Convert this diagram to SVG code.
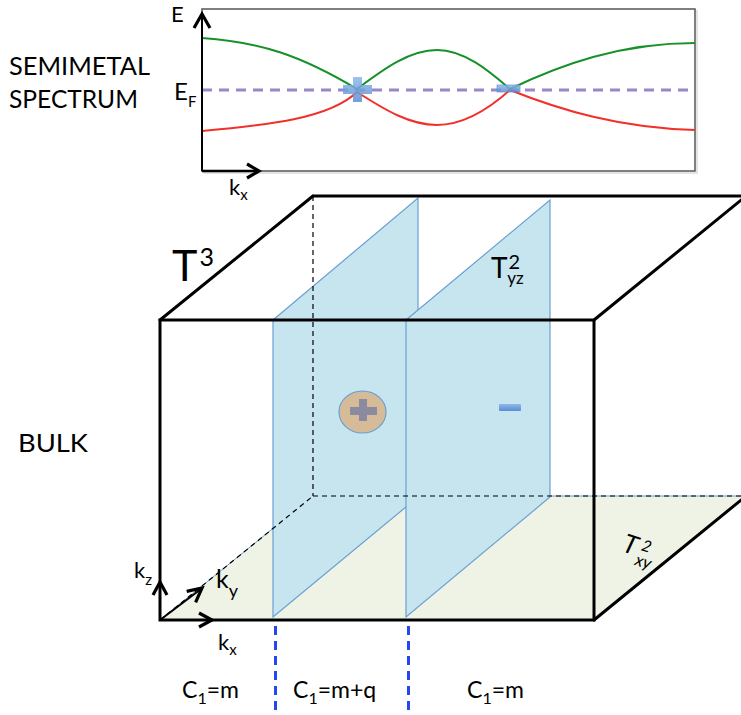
<svg xmlns="http://www.w3.org/2000/svg" width="741" height="715" viewBox="0 0 741 715">
<style>
text{font-family:Lato,"Open Sans","Liberation Sans",sans-serif;fill:#000}
.edge{fill:none;stroke:#000;stroke-width:3;stroke-linecap:round}
.hid{fill:none;stroke:#000;stroke-width:1.2;stroke-dasharray:5,4}
.chev{fill:none;stroke:#000;stroke-width:3.2;stroke-linejoin:miter}
.plane{fill:#c6e5ef;stroke:#6a9fd2;stroke-width:1.2}
.cut{stroke:#2447f0;stroke-width:3;stroke-dasharray:9,6}
</style>
<defs>
<linearGradient id="bl" x1="0" y1="0" x2="0" y2="1"><stop offset="0" stop-color="#8db8ea"/><stop offset="1" stop-color="#5a8fd0"/></linearGradient>
</defs>
<g id="spectrum">
<rect x="204" y="11" width="493" height="162" fill="none" stroke="#e4e4e4" stroke-width="2"/>
<rect x="202" y="9" width="493" height="162" fill="#fff" stroke="#555" stroke-width="1.5"/>
<line x1="202" y1="90" x2="692" y2="90" stroke="#9a86c8" stroke-width="3" stroke-dasharray="10,7"/>
<path d="M202,38 C260,42 300,55 357,89 C385,68 410,50 437,50 C465,50 490,72 510,89 C560,65 620,43 695,43" fill="none" stroke="#16912a" stroke-width="2"/>
<path d="M202,131 C270,125 330,118 357,92 C385,110 410,125 437,125 C465,125 490,108 510,90 C560,110 620,128 695,130" fill="none" stroke="#f2302a" stroke-width="2"/>
<path d="M353,77 h9 v8 h10 v9 h-10 v8 h-9 v-8 h-10 v-9 h10 z" fill="url(#bl)" opacity="0.85"/>
<rect x="497" y="85" width="23" height="7" fill="url(#bl)" opacity="0.85" stroke="#5a8fd0" stroke-width="0.8"/>
<line x1="202" y1="171" x2="202" y2="14" stroke="#000" stroke-width="2"/>
<polyline class="chev" points="194,28 202,14 210,28"/>
<line x1="202" y1="171" x2="258" y2="171" stroke="#000" stroke-width="2.5"/>
<polyline class="chev" points="247,164 259,171 247,178"/>
<text x="171" y="22" font-size="22">E</text>
<text x="174" y="100" font-size="24">E<tspan font-size="15" dy="7">F</tspan></text>
<text x="229" y="195" font-size="22">k<tspan font-size="15" dy="5">x</tspan></text>
</g>
<g id="labels">
<text x="9" y="75" font-size="25" textLength="141" lengthAdjust="spacingAndGlyphs">SEMIMETAL</text>
<text x="9" y="108" font-size="25" textLength="129" lengthAdjust="spacingAndGlyphs">SPECTRUM</text>
<text x="18" y="452" font-size="25" textLength="70" lengthAdjust="spacingAndGlyphs">BULK</text>
</g>
<g id="floor">
<polygon points="160,620 594,620 746,496 313,496" fill="#eff3e5" stroke="#6a9fd2" stroke-width="1"/>
</g>
<g id="plane1">
<polygon class="plane" points="273,320 418,198 418,497 273,617"/>
</g>
<g id="plane2">
<polygon class="plane" points="406,320 550,200 550,497 406,617"/>
</g>
<g id="connectors">
<line class="hid" x1="313" y1="196" x2="313" y2="496"/>
<line class="hid" x1="313" y1="496" x2="741" y2="496"/>
<line class="hid" x1="160" y1="620" x2="313" y2="496"/>
<rect class="edge" x="160" y="320" width="434" height="300"/>
<line class="edge" x1="160" y1="320" x2="313" y2="196"/>
<line class="edge" x1="313" y1="196" x2="745" y2="196"/>
<line class="edge" x1="594" y1="320" x2="746" y2="196"/>
<line class="edge" x1="594" y1="620" x2="746" y2="496"/>
<polyline class="chev" points="153,595 160,582 167,595"/>
<polyline class="chev" points="199,613 212,620 199,627"/>
<line x1="160" y1="620" x2="201" y2="589" stroke="#000" stroke-width="2"/>
<polyline class="chev" points="195.6,602.3 202,588 186.7,591.4"/>
<line class="cut" x1="275.5" y1="626" x2="275.5" y2="715"/>
<line class="cut" x1="408.5" y1="626" x2="408.5" y2="715"/>
</g>
<g id="charges">
<ellipse cx="362.5" cy="412" rx="23.5" ry="21" fill="#d5bb97" stroke="#6a9fd2" stroke-width="1.2"/>
<path d="M359,399 h8 v8 h10 v8 h-10 v6 h-8 v-6 h-9 v-8 h9 z" fill="#8c8a9e"/>
<rect x="499" y="404" width="22" height="7" rx="1" fill="url(#bl)"/>
</g>
<g id="axis-labels">
<text x="172" y="281" font-size="43">T<tspan font-size="25" dx="2" dy="-15">3</tspan></text>
<text x="491" y="278" font-size="28">T<tspan font-size="20" dx="1" dy="-9">2</tspan><tspan font-size="17" dx="-13" dy="15">yz</tspan></text>
<g transform="translate(621,551) rotate(18)">
<text x="0" y="0" font-size="26" font-style="italic">T<tspan font-size="16" dx="4" dy="-7">2</tspan><tspan font-size="17" dx="-11" dy="16">xy</tspan></text>
</g>
<text x="134" y="578" font-size="22">k<tspan font-size="15" dy="7">z</tspan></text>
<text x="216" y="588" font-size="25">k<tspan font-size="18" dy="9">y</tspan></text>
<text x="218" y="650" font-size="22">k<tspan font-size="15" dy="5">x</tspan></text>
</g>
<g id="chern">
<text x="182" y="698" font-size="23">C<tspan font-size="16" dy="6">1</tspan><tspan dy="-6">=m</tspan></text>
<text x="293" y="698" font-size="23">C<tspan font-size="16" dy="6">1</tspan><tspan dy="-6">=m+q</tspan></text>
<text x="467" y="698" font-size="23">C<tspan font-size="16" dy="6">1</tspan><tspan dy="-6">=m</tspan></text>
</g>
</svg>
